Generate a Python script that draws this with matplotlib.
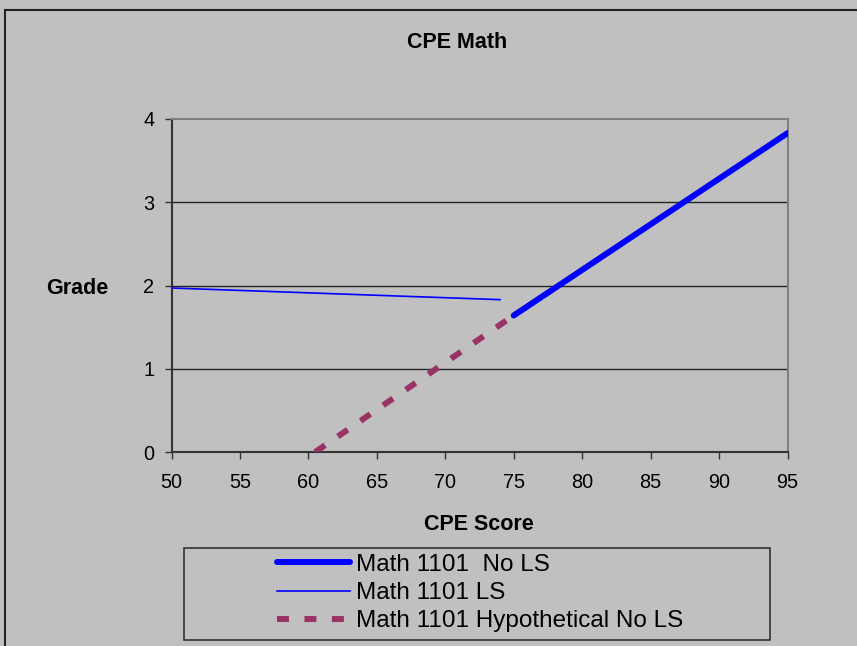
import matplotlib.pyplot as plt
from matplotlib.patches import Rectangle

plt.rcParams['font.family'] = ['Liberation Sans', 'DejaVu Sans']

# data
no_ls_x = [75, 95]
no_ls_y = [1.64, 3.83]
ls_x = [50, 74]
ls_y = [1.97, 1.83]
hyp_x = [60.5, 75]
hyp_y = [0.0, 1.64]

x_ticks = [50, 55, 60, 65, 70, 75, 80, 85, 90, 95]
y_ticks = [0, 1, 2, 3, 4]

bg = '#C0C0C0'
fig = plt.figure(figsize=(8.57, 6.46), dpi=100, facecolor=bg)
ax = fig.add_axes([171.5 / 857, 1 - 452 / 646, 616 / 857, 333 / 646], facecolor=bg)

ax.plot(no_ls_x, no_ls_y, color='#0000FF', lw=4.3, solid_capstyle='round',
        label='Math 1101  No LS', zorder=3)
ax.plot(ls_x, ls_y, color='#0000FF', lw=1.2, label='Math 1101 LS', zorder=3)
ax.plot(hyp_x, hyp_y, color='#993366', lw=4.3, linestyle=(0, (2, 2.6)),
        dash_capstyle='butt', label='Math 1101 Hypothetical No LS', zorder=3)

ax.set_xlim(50, 95)
ax.set_ylim(0, 4)
ax.set_xticks(x_ticks)
ax.set_yticks(y_ticks)
ax.tick_params(labelsize=14.3, length=5, width=1, color='#333333')
ax.tick_params(axis='x', pad=10)
ax.tick_params(axis='y', pad=7.5)

for y in [1, 2, 3]:
    ax.axhline(y, color='#222222', lw=1, zorder=1)

for s in ['left', 'bottom']:
    ax.spines[s].set_color('#333333')
    ax.spines[s].set_linewidth(1.5)
for s in ['top', 'right']:
    ax.spines[s].set_color('#808080')
    ax.spines[s].set_linewidth(1.5)

fig.text(457 / 857, 1 - 43 / 646, 'CPE Math', ha='center', va='center',
         fontsize=15.5, fontweight='bold')
fig.text(77 / 857, 1 - 288 / 646, 'Grade', ha='center', va='center',
         fontsize=15.5, fontweight='bold')
fig.text(479 / 857, 1 - 524 / 646, 'CPE Score', ha='center', va='center',
         fontsize=15.5, fontweight='bold')

# legend box
fig.patches.append(Rectangle((184 / 857, 1 - 640 / 646), 586 / 857, 92 / 646,
                             transform=fig.transFigure, facecolor=bg,
                             edgecolor='#333333', lw=1.2))
fig.legend(loc='center', bbox_to_anchor=(480 / 857, 1 - 593 / 646),
           frameon=False, fontsize=17.5, handlelength=3.0, handletextpad=0.25,
           labelspacing=0.26, borderpad=0)

# outer chart border
fig.patches.append(Rectangle((5 / 857, -0.05), 1.1, 1 - 10 / 646 + 0.05,
                             transform=fig.transFigure, facecolor='none',
                             edgecolor='#222222', lw=1.5))

fig.savefig('out.png', dpi=100, facecolor=bg)
